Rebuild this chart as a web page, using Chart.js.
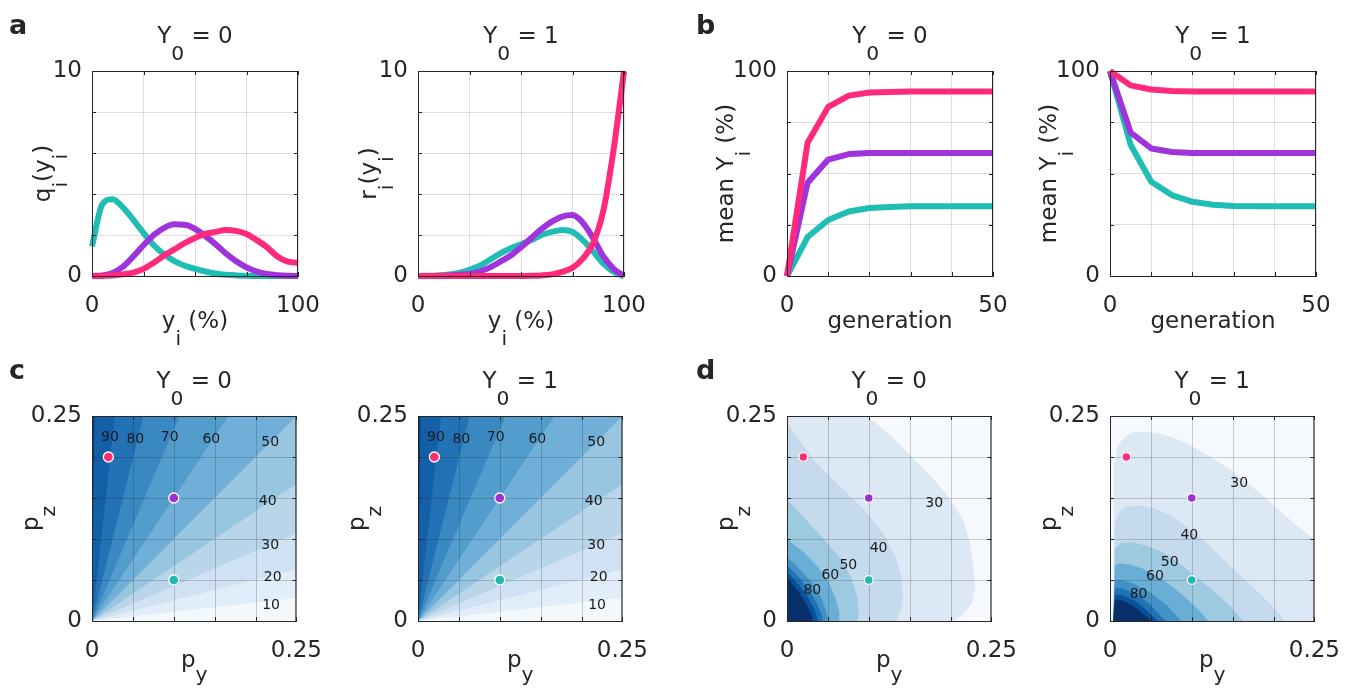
<!DOCTYPE html>
<html>
<head>
<meta charset="utf-8">
<script src="https://cdn.jsdelivr.net/npm/chart.js@4.4.1/dist/chart.umd.min.js"></script>
<style>
  body { margin: 0; width: 1357px; height: 689px; background: #fff; position: relative; overflow: hidden; }
  canvas { position: absolute; }
</style>
</head>
<body>
<script>
// ---- panel a: distributions over y_i (%) ----
const yiPct = [0, 5, 10, 15, 20, 25, 30, 35, 40, 45, 50, 55, 60, 65, 70, 75, 80, 85, 90, 95, 100];
const qPink   = [0, 0, 0.03, 0.08, 0.16, 0.35, 0.65, 1.0, 1.3, 1.6, 1.85, 2.05, 2.15, 2.25, 2.2, 2.05, 1.75, 1.4, 0.95, 0.7, 0.65];
const qPurple = [0, 0.03, 0.15, 0.45, 0.95, 1.5, 2.0, 2.35, 2.52, 2.5, 2.3, 1.95, 1.55, 1.1, 0.72, 0.42, 0.22, 0.1, 0.04, 0.01, 0];
const qTeal   = [1.45, 3.5, 3.75, 3.35, 2.75, 2.1, 1.5, 1.05, 0.72, 0.5, 0.35, 0.22, 0.12, 0.06, 0.03, 0.01, 0, 0, 0, 0, 0];
const rPink   = [0, 0, 0, 0, 0, 0, 0, 0, 0, 0, 0, 0.01, 0.03, 0.08, 0.2, 0.4, 0.85, 1.6, 3.2, 6.2, 10];
const rPurple = [0, 0, 0.01, 0.03, 0.06, 0.1, 0.22, 0.42, 0.7, 1.0, 1.4, 1.85, 2.3, 2.65, 2.9, 2.97, 2.6, 1.85, 0.95, 0.35, 0];
const rTeal   = [0, 0.01, 0.03, 0.07, 0.15, 0.3, 0.5, 0.8, 1.1, 1.35, 1.55, 1.75, 2.0, 2.15, 2.25, 2.15, 1.75, 1.2, 0.6, 0.2, 0];

// ---- panel b: mean Y_i (%) over generations ----
const generation = [0, 5, 10, 15, 20, 25, 30, 35, 40, 45, 50];
const bPink0   = [0, 65, 82.5, 88, 89.5, 89.8, 90, 90, 90, 90, 90];
const bPurple0 = [0, 45.5, 56.8, 59.5, 60, 60, 60, 60, 60, 60, 60];
const bTeal0   = [0, 19, 27.3, 31.5, 33.2, 33.7, 34, 34, 34, 34, 34];
const bPink1   = [100, 93, 91, 90.3, 90, 90, 90, 90, 90, 90, 90];
const bPurple1 = [100, 70, 62.2, 60.5, 60, 60, 60, 60, 60, 60, 60];
const bTeal1   = [100, 64, 46, 39.5, 36.2, 34.8, 34.2, 34, 34, 34, 34];

// ---- panels c, d: parameter points (p_y, p_z) ----
const dotPy = [0.02, 0.1, 0.1];
const dotPz = [0.2, 0.15, 0.05];

// panel c: contour levels, where each level line meets the frame
const cLevels = ['10', '20', '30', '40', '50', '60', '70', '80', '90', ''];
const cEnds = [[0.25, 0.028], [0.25, 0.063], [0.25, 0.107], [0.25, 0.167], [0.25, 0.25],
               [0.167, 0.25], [0.107, 0.25], [0.063, 0.25], [0.028, 0.25], [0.003, 0.25]];
const cLabelPos = [[0.219, 0.019], [0.221, 0.053], [0.218, 0.092], [0.215, 0.146], [0.218, 0.218],
                   [0.146, 0.221], [0.095, 0.224], [0.053, 0.221], [0.022, 0.224]];

// panel d: contour lines (levels 30..100), Y0 = 0 and Y0 = 1
const dLevels = ['30', '40', '50', '60', '70', '80', '90', '100'];
const d0Lines = [
  [[0.098, 0.25], [0.125, 0.228], [0.153, 0.2], [0.181, 0.171], [0.201, 0.147], [0.216, 0.122], [0.224, 0.094], [0.228, 0.066], [0.23, 0.041], [0.226, 0.021], [0.214, 0.007], [0.203, 0]],
  [[0, 0.242], [0.01, 0.228], [0.032, 0.197], [0.064, 0.165], [0.095, 0.135], [0.118, 0.106], [0.133, 0.078], [0.14, 0.053], [0.142, 0.03], [0.139, 0.012], [0.134, 0]],
  [[0, 0.148], [0.02, 0.127], [0.045, 0.1], [0.068, 0.073], [0.08, 0.05], [0.086, 0.028], [0.088, 0.01], [0.086, 0]],
  [[0, 0.1], [0.02, 0.084], [0.038, 0.066], [0.052, 0.046], [0.06, 0.026], [0.064, 0.01], [0.064, 0]],
  [[0, 0.078], [0.015, 0.064], [0.03, 0.047], [0.042, 0.028], [0.048, 0.012], [0.05, 0]],
  [[0, 0.068], [0.015, 0.053], [0.028, 0.036], [0.038, 0.019], [0.043, 0.006], [0.044, 0]],
  [[0, 0.06], [0.015, 0.044], [0.026, 0.028], [0.034, 0.013], [0.038, 0]],
  [[0, 0.053], [0.014, 0.036], [0.024, 0.02], [0.03, 0.007], [0.032, 0]]
];
const d1Lines = [
  [[0.004, 0], [0.005, 0.19], [0.009, 0.212], [0.016, 0.223], [0.027, 0.23], [0.044, 0.231], [0.064, 0.228], [0.084, 0.221], [0.108, 0.209], [0.133, 0.194], [0.157, 0.177], [0.181, 0.158], [0.205, 0.137], [0.229, 0.116], [0.25, 0.1]],
  [[0.004, 0], [0.006, 0.12], [0.011, 0.133], [0.019, 0.139], [0.036, 0.141], [0.056, 0.137], [0.076, 0.128], [0.097, 0.113], [0.117, 0.096], [0.137, 0.077], [0.157, 0.058], [0.177, 0.039], [0.197, 0.02], [0.214, 0]],
  [[0.004, 0], [0.006, 0.088], [0.014, 0.095], [0.027, 0.096], [0.044, 0.092], [0.064, 0.084], [0.084, 0.071], [0.104, 0.055], [0.125, 0.038], [0.145, 0.02], [0.163, 0]],
  [[0.004, 0], [0.006, 0.068], [0.012, 0.07], [0.024, 0.069], [0.04, 0.064], [0.057, 0.055], [0.075, 0.043], [0.093, 0.028], [0.11, 0.012], [0.12, 0]],
  [[0.004, 0], [0.006, 0.05], [0.015, 0.05], [0.03, 0.045], [0.05, 0.034], [0.07, 0.019], [0.087, 0]],
  [[0.004, 0], [0.006, 0.04], [0.015, 0.04], [0.03, 0.034], [0.048, 0.021], [0.068, 0]],
  [[0.004, 0], [0.006, 0.032], [0.015, 0.031], [0.03, 0.025], [0.045, 0.013], [0.058, 0]],
  [[0.004, 0], [0.006, 0.026], [0.015, 0.025], [0.03, 0.017], [0.044, 0.006], [0.05, 0]]
];
const d0LabelPos = [[0.18, 0.143], [0.112, 0.088], [0.075, 0.068], [0.053, 0.056], null, [0.031, 0.037], null, null];
const d1LabelPos = [[0.158, 0.168], [0.097, 0.105], [0.073, 0.071], [0.055, 0.054], null, [0.035, 0.032], null, null];

// ---- styling ----
const PINK = '#ff2a7b', PURPLE = '#9f33dc', TEAL = '#1fbdb3';
const DOT_COLORS = ['#ff2d78', '#9b30d9', '#1fb8ad'];
const C_COLORS = ['#f3f8fd', '#e1edf8', '#cfe1f2', '#b8d5ea', '#98c5e0', '#70b0d8', '#529dcc', '#3a88c1', '#2272b5', '#1460a8', '#083c80'];
const D_COLORS = ['#f5f9fe', '#dce8f4', '#c6daee', '#9ecae1', '#6aaed6', '#4292c6', '#2171b5', '#08519c', '#08306b'];
const FONT = '"DejaVu Sans", sans-serif';
const INK = '#262626';

Chart.defaults.font.family = FONT;
Chart.defaults.font.size = 23;
Chart.defaults.color = INK;

const PLOT_W = 206, PLOT_H = 205, PAD_L = 92, PAD_T = 71, PAD_R = 40, PAD_B = 70;

function lineSet(xs, ys, color, smooth) {
  return {
    data: xs.map((x, i) => ({ x, y: ys[i] })),
    borderColor: color, borderWidth: 6, pointRadius: 0, fill: false, clip: false,
    cubicInterpolationMode: smooth ? 'monotone' : 'default', tension: 0,
    borderJoinStyle: 'round', borderCapStyle: 'butt'
  };
}

function bandSet(poly, color, order) {
  return {
    data: poly.map(([x, y]) => ({ x, y })),
    showLine: true, fill: 'shape', backgroundColor: color,
    borderColor: 'rgba(0,0,0,0)', borderWidth: 0, pointRadius: 0, tension: 0, order
  };
}

function dotSet(r) {
  return {
    data: dotPy.map((x, i) => ({ x, y: dotPz[i] })), isDots: true,
    showLine: false, pointRadius: r, pointBackgroundColor: DOT_COLORS,
    pointBorderColor: '#ffffff', pointBorderWidth: 1.3, order: -1, clip: false
  };
}

function axes(max, step, lastLabel) {
  const tick = (v, i, t) => (i === 0 ? '0' : (i === t.length - 1 ? lastLabel : ''));
  const make = (pos) => ({
    type: 'linear', position: pos, min: 0, max,
    ticks: { stepSize: step, callback: tick, padding: pos === 'bottom' ? 16 : 10, maxRotation: 0, autoSkip: false, color: INK },
    grid: { color: 'rgba(0,0,0,0.13)', drawTicks: false, lineWidth: 1 },
    border: { display: true, color: INK, width: 1 },
    afterFit: (s) => { if (pos === 'bottom') s.height = PAD_B; else s.width = PAD_L; }
  });
  return { x: make('bottom'), y: make('left') };
}

// text with single-character subscripts written as _x
function richText(ctx, str, x, y, size, rotate, shiftK) {
  const parts = [];
  for (let i = 0; i < str.length; i++) {
    if (str[i] === '_') { parts.push({ t: str[i + 1], sub: true }); i++; }
    else if (parts.length && !parts[parts.length - 1].sub) parts[parts.length - 1].t += str[i];
    else parts.push({ t: str[i], sub: false });
  }
  const subSize = size * 0.88, shift = size * (shiftK || 0.72);
  let w = 0;
  parts.forEach(p => { ctx.font = `${p.sub ? subSize : size}px ${FONT}`; p.w = ctx.measureText(p.t).width; w += p.w; });
  ctx.save();
  ctx.translate(x, y);
  if (rotate) ctx.rotate(-Math.PI / 2);
  ctx.fillStyle = INK; ctx.textAlign = 'left'; ctx.textBaseline = 'alphabetic';
  let cx = -w / 2;
  parts.forEach(p => {
    ctx.font = `${p.sub ? subSize : size}px ${FONT}`;
    ctx.fillText(p.t, cx, p.sub ? shift : 0);
    cx += p.w;
  });
  ctx.restore();
}

function deco(cfg) {
  return {
    id: 'deco',
    // grid over the filled contours, under the dots
    beforeDatasetDraw(chart, args) {
      if (!cfg.gridOnTop || !chart.data.datasets[args.index].isDots) return;
      const { ctx, chartArea: a, scales: { x, y } } = chart;
      ctx.save();
      ctx.strokeStyle = 'rgba(20,20,20,0.2)'; ctx.lineWidth = 1;
      ctx.beginPath();
      x.ticks.forEach(t => {
        const px = Math.round(x.getPixelForValue(t.value)) + 0.5;
        ctx.moveTo(px, a.top); ctx.lineTo(px, a.bottom);
      });
      y.ticks.forEach(t => {
        const py = Math.round(y.getPixelForValue(t.value)) + 0.5;
        ctx.moveTo(a.left, py); ctx.lineTo(a.right, py);
      });
      ctx.stroke();
      ctx.restore();
    },
    afterDraw(chart) {
      const { ctx, chartArea: a, scales: { x, y } } = chart;
      ctx.save();
      // box and inward tick marks
      ctx.strokeStyle = INK; ctx.lineWidth = 1;
      ctx.strokeRect(a.left + 0.5, a.top + 0.5, a.right - a.left - 1, a.bottom - a.top);
      ctx.beginPath();
      x.ticks.forEach(t => {
        const px = Math.round(x.getPixelForValue(t.value)) + 0.5;
        ctx.moveTo(px, a.bottom); ctx.lineTo(px, a.bottom - 4);
        ctx.moveTo(px, a.top); ctx.lineTo(px, a.top + 4);
      });
      y.ticks.forEach(t => {
        const py = Math.round(y.getPixelForValue(t.value)) + 0.5;
        ctx.moveTo(a.left, py); ctx.lineTo(a.left + 4, py);
        ctx.moveTo(a.right, py); ctx.lineTo(a.right - 4, py);
      });
      ctx.stroke();
      // contour labels
      if (cfg.labels) {
        ctx.fillStyle = '#1a1a1a'; ctx.font = `14px ${FONT}`;
        ctx.textAlign = 'center'; ctx.textBaseline = 'middle';
        cfg.labels.forEach(l => ctx.fillText(l.t, x.getPixelForValue(l.x), y.getPixelForValue(l.y)));
      }
      // letter, title, axis labels
      if (cfg.letter) {
        ctx.fillStyle = INK; ctx.font = `bold 27px ${FONT}`;
        ctx.textAlign = 'left'; ctx.textBaseline = 'alphabetic';
        ctx.fillText(cfg.letter, cfg.letterX, 34);
      }
      const cx = (a.left + a.right) / 2, cy = (a.top + a.bottom) / 2;
      richText(ctx, cfg.title, cx, a.top - 28, 23, false);
      richText(ctx, cfg.xlab, cx, a.bottom + (cfg.xlabDy || 52), 23, false, cfg.xlabShift);
      richText(ctx, cfg.ylab, a.left - cfg.ylabOff, cy, 23, true);
      ctx.restore();
    }
  };
}

function makeChart(plotLeft, plotTop, datasets, scales, cfg) {
  const cv = document.createElement('canvas');
  const W = PAD_L + PLOT_W + PAD_R, H = PAD_T + PLOT_H + PAD_B;
  cv.width = W; cv.height = H;
  cv.style.left = (plotLeft - PAD_L) + 'px';
  cv.style.top = (plotTop - PAD_T) + 'px';
  cv.style.width = W + 'px'; cv.style.height = H + 'px';
  document.body.appendChild(cv);
  new Chart(cv.getContext('2d'), {
    type: 'line',
    data: { datasets },
    options: {
      responsive: false, animation: false, devicePixelRatio: 1, events: [],
      layout: { padding: { left: 0, top: PAD_T, right: PAD_R, bottom: 0 } },
      plugins: { legend: { display: false }, tooltip: { enabled: false }, title: { display: false } },
      scales
    },
    plugins: [deco(cfg)]
  });
}

// ---- build contour band polygons ----
const fullSquare = [[0, 0.25], [0, 0], [0.25, 0], [0.25, 0.25]];
function cBands() {
  const sets = [bandSet(fullSquare, C_COLORS[0], 100)];
  cEnds.forEach((e, k) => sets.push(bandSet([[0, 0.25], [0, 0], e, [0.25, 0.25]], C_COLORS[k + 1], 99 - k)));
  return sets;
}
function dBands(lines) {
  const sets = [bandSet(fullSquare, D_COLORS[0], 100)];
  lines.forEach((c, k) => {
    const poly = [[0, 0]].concat(c[0][1] >= 0.25 ? [[0, 0.25]] : [], c, [[0.25, 0]]);
    sets.push(bandSet(poly, D_COLORS[k + 1], 99 - k));
  });
  return sets;
}
const cLabels = cLabelPos.map((p, i) => ({ x: p[0], y: p[1], t: cLevels[i] }));
function dLabels(pos) {
  return pos.map((p, i) => p && { x: p[0], y: p[1], t: dLevels[i] }).filter(Boolean);
}

// ---- panel a ----
const aScales = () => Object.assign(axes(10, 2, '10'), { x: axes(100, 25, '100').x });
makeChart(92, 71,
  [lineSet(yiPct, qPink, PINK, true), lineSet(yiPct, qPurple, PURPLE, true), lineSet(yiPct, qTeal, TEAL, true)],
  aScales(), { letter: 'a', letterX: 9, title: 'Y_0 = 0', xlab: 'y_i (%)', ylab: 'q_i(y_i)', ylabOff: 42 });
makeChart(418, 71,
  [lineSet(yiPct, rPink, PINK, true), lineSet(yiPct, rPurple, PURPLE, true), lineSet(yiPct, rTeal, TEAL, true)],
  aScales(), { title: 'Y_0 = 1', xlab: 'y_i (%)', ylab: 'r_i(y_i)', ylabOff: 42 });

// ---- panel b ----
const bScales = () => Object.assign(axes(100, 25, '100'), { x: axes(50, 10, '50').x });
makeChart(787, 71,
  [lineSet(generation, bPink0, PINK, false), lineSet(generation, bPurple0, PURPLE, false), lineSet(generation, bTeal0, TEAL, false)],
  bScales(), { letter: 'b', letterX: 1, title: 'Y_0 = 0', xlab: 'generation', ylab: 'mean Y_i (%)', ylabOff: 54 });
makeChart(1110, 71,
  [lineSet(generation, bPink1, PINK, false), lineSet(generation, bPurple1, PURPLE, false), lineSet(generation, bTeal1, TEAL, false)],
  bScales(), { title: 'Y_0 = 1', xlab: 'generation', ylab: 'mean Y_i (%)', ylabOff: 54 });

// ---- panel c ----
const pLab = { xlab: 'p_y', ylab: 'p_z', ylabOff: 54, xlabDy: 46, xlabShift: 0.6, gridOnTop: true };
makeChart(92, 416, cBands().concat([dotSet(5)]), axes(0.25, 0.05, '0.25'),
  Object.assign({ letter: 'c', letterX: 9, title: 'Y_0 = 0', labels: cLabels }, pLab));
makeChart(418, 416, cBands().concat([dotSet(5)]), axes(0.25, 0.05, '0.25'),
  Object.assign({ title: 'Y_0 = 1', labels: cLabels }, pLab));

// ---- panel d ----
makeChart(787, 416, dBands(d0Lines).concat([dotSet(4.4)]), axes(0.25, 0.05, '0.25'),
  Object.assign({ letter: 'd', letterX: 1, title: 'Y_0 = 0', labels: dLabels(d0LabelPos) }, pLab));
makeChart(1110, 416, dBands(d1Lines).concat([dotSet(4.4)]), axes(0.25, 0.05, '0.25'),
  Object.assign({ title: 'Y_0 = 1', labels: dLabels(d1LabelPos) }, pLab));
</script>
</body>
</html>
